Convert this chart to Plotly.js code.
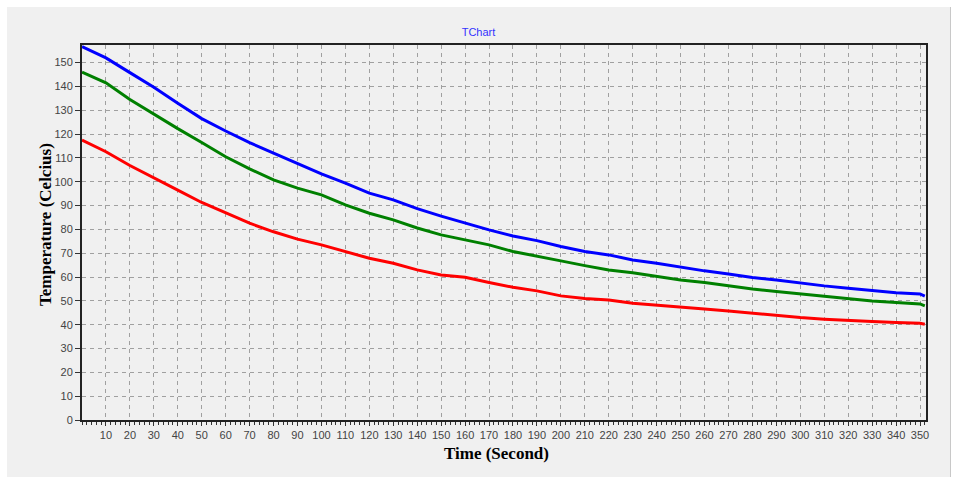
<!DOCTYPE html>
<html>
<head>
<meta charset="utf-8">
<script src="https://cdn.plot.ly/plotly-3.0.1.min.js"></script>
<style>
  html, body { margin: 0; padding: 0; background: #ffffff; width: 957px; height: 477px; overflow: hidden; }
  #panel { position: absolute; left: 7px; top: 7px; width: 943px; height: 470px; background: #f0f0f0; border-right: 1px solid #c8c8c8; }
  #chart { width: 943px; height: 470px; }
</style>
</head>
<body>
<div id="panel"><div id="chart"></div></div>
<script>
// Time in seconds
const timeSec = [0,10,20,30,40,50,60,70,80,90,100,110,120,130,140,150,160,170,180,190,200,210,220,230,240,250,260,270,280,290,300,310,320,330,340,350,352];
// Temperature series (Celcius)
const blueTemp = [156.7,152,145.8,139.7,133,126.5,121.3,116.4,112,107.5,103.3,99.4,95.2,92.4,88.7,85.6,82.6,79.8,77.2,75.3,72.8,70.7,69.3,67.2,65.8,64.1,62.6,61.3,59.8,58.8,57.4,56.3,55.3,54.3,53.4,52.9,52.0];
const greenTemp = [146,141.5,134.5,128.3,122.3,116.5,110.5,105.4,100.8,97.3,94.5,90.3,86.8,84,80.6,77.7,75.6,73.5,70.7,68.9,66.8,64.8,63,61.8,60.2,58.8,57.7,56.3,55,53.9,52.9,51.8,50.7,50,49.3,48.7,47.9];
const redTemp = [117.5,112.6,106.8,101.8,96.5,91.3,86.8,82.6,79,75.9,73.5,70.7,67.9,65.8,63,60.9,59.9,57.7,55.7,54.2,52.1,51,50.4,49,48.3,47.3,46.6,45.8,44.8,43.7,43,42.3,41.7,41.3,40.9,40.6,40.2];
// Tick labels
const xTicks = [10,20,30,40,50,60,70,80,90,100,110,120,130,140,150,160,170,180,190,200,210,220,230,240,250,260,270,280,290,300,310,320,330,340,350];
const yTicks = [0,10,20,30,40,50,60,70,80,90,100,110,120,130,140,150];
const chartTitle = 'TChart';
const xTitle = 'Time (Second)';
const yTitle = 'Temperature (Celcius)';

const lineStyle = (c) => ({ color: c, width: 3 });
const traces = [
  { x: timeSec, y: redTemp, mode: 'lines', line: lineStyle('#ff0000'), name: 'Red' },
  { x: timeSec, y: greenTemp, mode: 'lines', line: lineStyle('#008000'), name: 'Green' },
  { x: timeSec, y: blueTemp, mode: 'lines', line: lineStyle('#0000ff'), name: 'Blue' }
];

const tickFont = { family: 'Liberation Sans, Arial, sans-serif', size: 11, color: '#444444' };
const titleFont = { family: 'Liberation Serif, Times New Roman, serif', size: 17, color: '#000000', weight: 'bold' };

const layout = {
  width: 943, height: 470,
  paper_bgcolor: '#f0f0f0',
  plot_bgcolor: '#f0f0f0',
  showlegend: false,
  margin: { l: 75, r: 24, t: 38, b: 57 },
  title: { text: chartTitle, font: { family: 'Liberation Sans, Arial, sans-serif', size: 11, color: '#3333ff' }, x: 0.5, xref: 'container', y: 0.947, yref: 'container', yanchor: 'middle' },
  xaxis: {
    range: [0, 352.5],
    tickvals: xTicks,
    ticktext: xTicks.map(String),
    ticks: 'outside', ticklen: 4, tickwidth: 1, tickcolor: '#333',
    minor: { dtick: 2, tick0: 0, ticks: 'outside', ticklen: 3, tickcolor: '#333', showgrid: false },
    showgrid: true, gridcolor: '#a0a0a0', griddash: '4px,4px', gridwidth: 1,
    showline: true, linecolor: '#222', linewidth: 2, mirror: true,
    zeroline: false,
    tickfont: tickFont,
    automargin: false
  },
  yaxis: {
    range: [0, 157.4],
    tickvals: yTicks,
    ticktext: yTicks.map(String),
    ticks: 'outside', ticklen: 5, tickwidth: 1, tickcolor: '#333',
    showgrid: true, gridcolor: '#a0a0a0', griddash: '4px,4px', gridwidth: 1,
    showline: true, linecolor: '#222', linewidth: 2, mirror: true,
    zeroline: false,
    tickfont: tickFont,
    automargin: false
  },
  annotations: [
    { text: xTitle, xref: 'paper', yref: 'paper', x: 0.4917, y: -0.088, xanchor: 'center', yanchor: 'middle', showarrow: false, font: titleFont },
    { text: yTitle, xref: 'paper', yref: 'paper', x: -0.0438, y: 0.52, xanchor: 'center', yanchor: 'middle', textangle: -90, showarrow: false, font: titleFont }
  ]
};

Plotly.newPlot('chart', traces, layout, { displayModeBar: false, staticPlot: true });
</script>
</body>
</html>
